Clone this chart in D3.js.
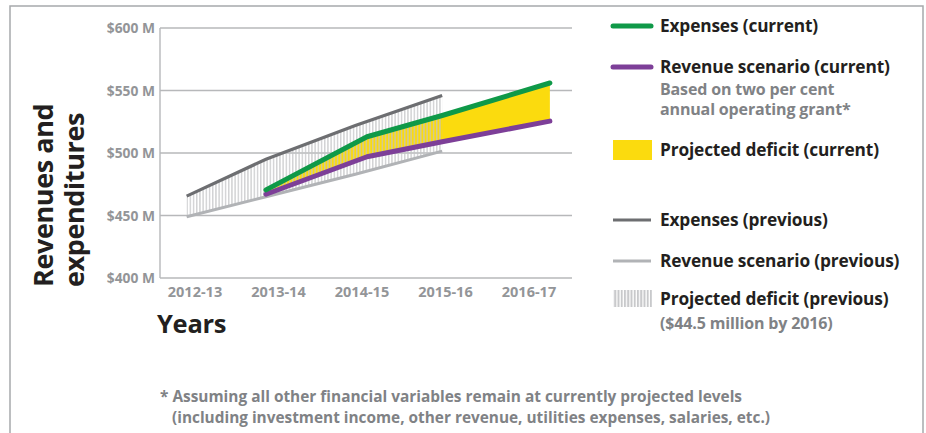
<!DOCTYPE html>
<html><head><meta charset="utf-8">
<script src="https://cdn.jsdelivr.net/npm/d3@7"></script>
<style>body{margin:0;background:#fff}svg{display:block}text{font-family:"Open Sans",sans-serif;font-weight:700}</style>
</head><body><svg id="c" width="926" height="433"></svg>
<script>
const categories = ["2012-13","2013-14","2014-15","2015-16","2016-17"];
const yTicks = [400,450,500,550,600];
// positions along the year axis (in category-index units) and values in $M
const prevX = [-0.1, 0.85, 1.92, 2.96];
const prevExpenses = [465.5, 495, 522, 546];
const prevRevenue = [449, 465, 483, 501.5];
const curX = [0.85, 2.06, 2.96, 4.25];
const curExpenses = [470.5, 513, 530, 556];
const curRevenue = [467, 497, 509, 525.5];

const svg = d3.select("#c");
const x = d3.scaleLinear().domain([0,4]).range([195,529]);
const y = d3.scaleLinear().domain([400,600]).range([278,28]);
const L = 160, R = 572;

// border
svg.append("path").attr("d","M10,440V6H923V440").attr("fill","none").attr("stroke","#a7a9ac").attr("stroke-width",1.5);

const defs = svg.append("defs");
const p1 = defs.append("pattern").attr("id","hatch").attr("patternUnits","userSpaceOnUse").attr("width",3.2).attr("height",10);
p1.append("rect").attr("x",1).attr("y",0).attr("width",1.1).attr("height",10).attr("fill","#c3c4c6");
const p2 = defs.append("pattern").attr("id","hatchL").attr("patternUnits","userSpaceOnUse").attr("width",3.25).attr("height",10);
p2.append("rect").attr("x",0).attr("y",0).attr("width",2).attr("height",10).attr("fill","#c8c9cb");

// grid
svg.append("g").selectAll("line").data(yTicks).join("line")
  .attr("x1",L).attr("x2",R).attr("y1",d=>y(d)).attr("y2",d=>y(d))
  .attr("stroke","#b7b8ba").attr("stroke-width",1.4);
svg.append("line").attr("x1",L).attr("x2",L).attr("y1",y(600)).attr("y2",y(400)).attr("stroke","#b7b8ba").attr("stroke-width",1.4);

// y tick labels
svg.append("g").selectAll("text").data(yTicks).join("text")
  .attr("x",155).attr("y",d=>y(d)+5).attr("text-anchor","end")
  .attr("font-size",13.8).attr("fill","#939598").text(d=>"$"+d+" M");
// x tick labels
svg.append("g").selectAll("text").data(categories).join("text")
  .attr("x",(d,i)=>x(i)).attr("y",297).attr("text-anchor","middle")
  .attr("font-size",14.5).attr("fill","#939598").text(d=>d);

// current deficit area
const cur = curX.map((v,i)=>({x:v,e:curExpenses[i],r:curRevenue[i]}));
const prev = prevX.map((v,i)=>({x:v,e:prevExpenses[i],r:prevRevenue[i]}));
svg.append("path").datum(cur).attr("fill","#fbdb0e")
  .attr("d",d3.area().x(d=>x(d.x)).y0(d=>y(d.r)).y1(d=>y(d.e)));
svg.append("path").datum(prev).attr("fill","url(#hatch)")
  .attr("d",d3.area().x(d=>x(d.x)).y0(d=>y(d.r)).y1(d=>y(d.e)));

const line = (xs,vs)=>d3.line().x(d=>x(d[0])).y(d=>y(d[1]))(xs.map((v,i)=>[v,vs[i]]));
svg.append("path").attr("d",line(prevX,prevRevenue)).attr("fill","none").attr("stroke","#b1b3b6").attr("stroke-width",3);
svg.append("path").attr("d",line(prevX,prevExpenses)).attr("fill","none").attr("stroke","#6d6e71").attr("stroke-width",3.2);
svg.append("path").attr("d",line(curX,curRevenue)).attr("fill","none").attr("stroke","#7d3f98").attr("stroke-width",5).attr("stroke-linecap","round").attr("stroke-linejoin","round");
svg.append("path").attr("d",line(curX,curExpenses)).attr("fill","none").attr("stroke","#0f9948").attr("stroke-width",5).attr("stroke-linecap","round").attr("stroke-linejoin","round");

// axis titles
svg.append("text").attr("x",157).attr("y",333).attr("font-size",25.5).attr("fill","#231f20").attr("letter-spacing",-0.3).text("Years");
const yt = svg.append("text").attr("transform","translate(53,287) rotate(-90)").attr("font-size",27).attr("fill","#231f20").attr("letter-spacing",-0.4);
yt.append("tspan").attr("x",0).attr("y",0).text("Revenues and");
yt.append("tspan").attr("x",0).attr("y",31).text("expenditures");

// legend
const lg = svg.append("g");
const lx1 = 613, lx2 = 651, tx = 660;
lg.append("line").attr("x1",lx1).attr("x2",lx2).attr("y1",26).attr("y2",26).attr("stroke","#0f9948").attr("stroke-width",5).attr("stroke-linecap","round");
lg.append("line").attr("x1",lx1).attr("x2",lx2).attr("y1",67).attr("y2",67).attr("stroke","#7d3f98").attr("stroke-width",5).attr("stroke-linecap","round");
lg.append("rect").attr("x",lx1).attr("y",140).attr("width",39).attr("height",20).attr("fill","#fbdb0e");
lg.append("line").attr("x1",lx1).attr("x2",lx2).attr("y1",220).attr("y2",220).attr("stroke","#6d6e71").attr("stroke-width",3);
lg.append("line").attr("x1",lx1).attr("x2",lx2).attr("y1",261).attr("y2",261).attr("stroke","#b1b3b6").attr("stroke-width",3);
lg.append("rect").attr("x",lx1).attr("y",290).attr("width",39).attr("height",17).attr("fill","url(#hatchL)");
const items = [
  ["Expenses (current)",32,"#231f20",17.3],
  ["Revenue scenario (current)",73,"#231f20",17.3],
  ["Based on two per cent",94.5,"#808285",16],
  ["annual operating grant*",115,"#808285",16],
  ["Projected deficit (current)",156,"#231f20",17.3],
  ["Expenses (previous)",226,"#231f20",17.3],
  ["Revenue scenario (previous)",267,"#231f20",17.3],
  ["Projected deficit (previous)",305,"#231f20",17.3],
  ["($44.5 million by 2016)",329,"#808285",16]
];
lg.selectAll("text").data(items).join("text").attr("x",tx).attr("y",d=>d[1]).attr("fill",d=>d[2]).attr("font-size",d=>d[3]).attr("letter-spacing",-0.15).text(d=>d[0]);

// footnote
svg.append("text").attr("x",160).attr("y",402).attr("font-size",15.5).attr("fill","#808285")
  .attr("font-family","'Liberation Sans Narrow',sans-serif").attr("textLength",582).attr("lengthAdjust","spacingAndGlyphs")
  .text("* Assuming all other financial variables remain at currently projected levels");
svg.append("text").attr("x",172).attr("y",423).attr("font-size",15.5).attr("fill","#808285")
  .attr("font-family","'Liberation Sans Narrow',sans-serif").attr("textLength",598).attr("lengthAdjust","spacingAndGlyphs")
  .text("(including investment income, other revenue, utilities expenses, salaries, etc.)");
</script></body></html>
